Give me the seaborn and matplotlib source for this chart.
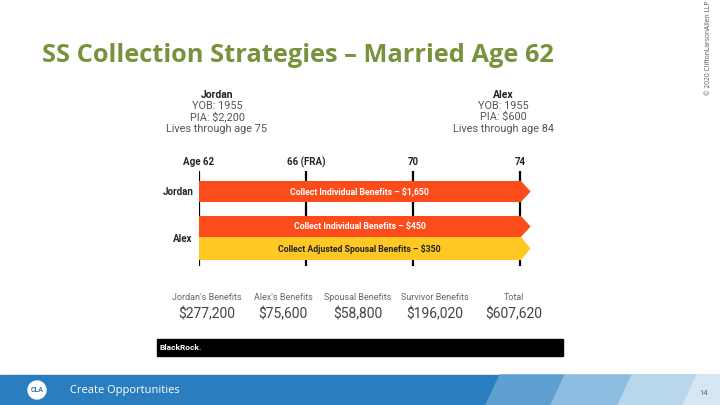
import numpy as np
import pandas as pd
import matplotlib
matplotlib.use("Agg")
import matplotlib.pyplot as plt
from matplotlib.patches import Polygon, Rectangle, Circle
import seaborn as sns

sns.set_style("white")
plt.rcParams["font.family"] = ["Roboto", "DejaVu Sans"]

# data
title = "SS Collection Strategies \u2013 Married Age 62"
people = ["Jordan", "Alex"]
yob = [1955, 1955]
pia = ["$2,200", "$600"]
lives_to = [75, 84]

ages = [62, 66, 70, 74]
age_labels = ["Age 62", "66 (FRA)", "70", "74"]

bar_rows = ["Jordan", "Alex", "Alex"]
bar_start = [62, 62, 62]
bar_end = [74, 74, 74]
bar_text = ["Collect Individual Benefits \u2013 $1,650",
            "Collect Individual Benefits \u2013 $450",
            "Collect Adjusted Spousal Benefits \u2013 $350"]
bar_kind = ["individual", "individual", "spousal"]

sum_labels = ["Jordan's Benefits", "Alex's Benefits", "Spousal Benefits",
              "Survivor Benefits", "Total"]
sum_values = [277200, 75600, 58800, 196020, 607620]

bars = pd.DataFrame({"row": bar_rows, "start": bar_start, "end": bar_end,
                     "text": bar_text, "kind": bar_kind})
bars["yc"] = [191.5, 226.5, 248.5]
bars["h"] = [21, 21, 23]
colors = {"individual": "#FC4C1C", "spousal": "#FFC823"}

fig = plt.figure(figsize=(7.2, 4.05), dpi=100)
bg = fig.add_axes([0, 0, 1, 1])
bg.set_xlim(0, 720)
bg.set_ylim(405, 0)
bg.axis("off")

# title + side note
bg.text(42, 56, title, fontsize=18.3, fontweight="bold", color="#77933C",
        family=["Open Sans", "DejaVu Sans"], va="center", ha="left")
bg.text(708, 48, "\u00a9 2020 CliftonLarsonAllen LLP", rotation=90, fontsize=4.8,
        color="#555555", va="center", ha="center", family=["Open Sans", "DejaVu Sans"])

# person headers
hx = [217, 503]
for i, p in enumerate(people):
    bg.text(hx[i], 95, p, fontsize=7.5, fontweight="bold", ha="center", va="center", color="#222222")
    bg.text(hx[i], 106, f"YOB: {yob[i]}", fontsize=7.8, ha="center", va="center",
            color="#555555")
    bg.text(hx[i], 117, f"PIA: {pia[i]}", fontsize=7.8, ha="center", va="center",
            color="#555555")
    bg.text(hx[i], 129, f"Lives through age {lives_to[i]}", fontsize=7.8, ha="center",
            va="center", color="#555555")

# timeline axes: age 62 at px 199, 26.75 px per year
px0, px1 = 199, 560
ax = fig.add_axes([px0 / 720, (405 - 270) / 405, (px1 - px0) / 720, 120 / 405])
ax.set_xlim(62, 62 + (px1 - px0) / 26.75)
ax.set_ylim(270, 150)
ax.axis("off")

ax.vlines(ages, 171, 266, color="black", lw=1.6, zorder=1)
for a, lab in zip(ages, age_labels):
    ax.text(a, 162, lab, ha="center", va="center", fontsize=7, fontweight="bold")

for _, r in bars.iterrows():
    c = colors[r["kind"]]
    ax.barh(r["yc"], r["end"] - r["start"], left=r["start"], height=r["h"],
            color=c, edgecolor="none", zorder=2)
    tip = Polygon([[r["end"], r["yc"] - r["h"] / 2], [r["end"] + 0.36, r["yc"]],
                   [r["end"], r["yc"] + r["h"] / 2]], closed=True, color=c, zorder=2)
    ax.add_patch(tip)
    tc = "white" if r["kind"] == "individual" else "#222222"
    ax.text((r["start"] + r["end"]) / 2, r["yc"], r["text"], ha="center", va="center",
            fontsize=6.3, fontweight="bold", color=tc, zorder=3)

# row labels
bg.text(178, 192, "Jordan", fontsize=7, fontweight="bold", ha="center", va="center")
bg.text(183, 239, "Alex", fontsize=7, fontweight="bold", ha="center", va="center")

# summary
sx = [207, 283, 358, 435, 514]
for x, lab, v in zip(sx, sum_labels, sum_values):
    bg.text(x, 298, lab, fontsize=6.5, ha="center", va="center", color="#666666")
    bg.text(x, 314, f"${v:,}", fontsize=10, ha="center", va="center", color="#444444")

# BlackRock band
bg.add_patch(Rectangle((157, 339), 406, 17, color="black"))
bg.text(160, 348, "BlackRock.", fontsize=6, fontweight="bold", color="white", va="center")

# footer
bg.add_patch(Rectangle((0, 375), 720, 30, color="#2A7DBE"))
stripes = [("#5FA0D3", 500, 565), ("#8DBDE0", 565, 632), ("#B8D6EC", 632, 697), ("#D6E7F3", 697, 740)]
for col, xa, xb in stripes:
    bg.add_patch(Polygon([[xa, 375], [xb, 375], [xb - 14, 405], [xa - 14, 405]], color=col))
bg.add_patch(Circle((37, 390), 9, color="white"))
bg.text(37, 390, "CLA", fontsize=5, fontweight="bold", color="#2A7DBE", ha="center", va="center")
bg.text(70, 391, "Create Opportunities", fontsize=8, color="white", va="center",
        family=["Open Sans", "DejaVu Sans"])
bg.text(704, 393, "14", fontsize=5.5, color="#666666", ha="center", va="center")

fig.savefig("out.png", dpi=100)
